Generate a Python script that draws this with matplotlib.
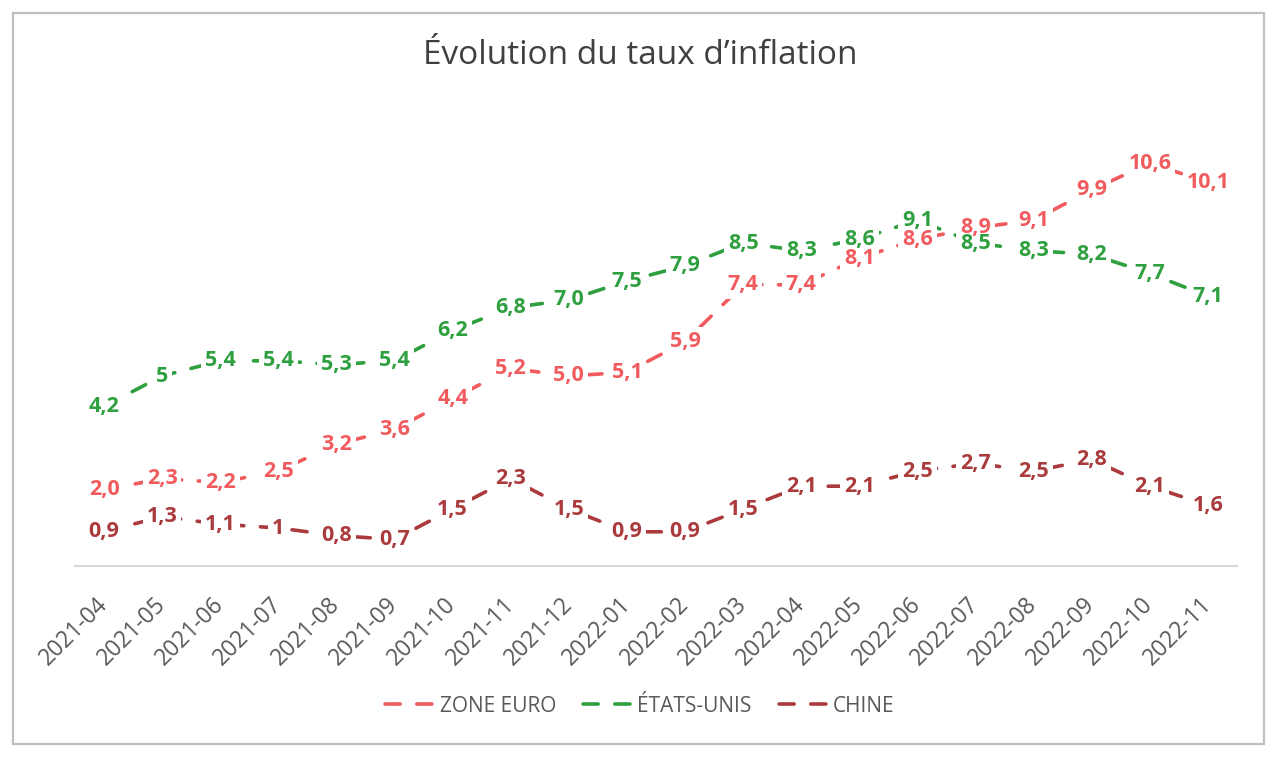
import matplotlib.pyplot as plt
from matplotlib.patches import Rectangle

plt.rcParams['font.family'] = ['Open Sans', 'DejaVu Sans']

mois = ['2021-04', '2021-05', '2021-06', '2021-07', '2021-08', '2021-09', '2021-10',
        '2021-11', '2021-12', '2022-01', '2022-02', '2022-03', '2022-04', '2022-05',
        '2022-06', '2022-07', '2022-08', '2022-09', '2022-10', '2022-11']

zoneEuro = [2.0, 2.3, 2.2, 2.5, 3.2, 3.6, 4.4, 5.2, 5.0, 5.1, 5.9, 7.4, 7.4, 8.1,
            8.6, 8.9, 9.1, 9.9, 10.6, 10.1]
etatsUnis = [4.2, 5, 5.4, 5.4, 5.3, 5.4, 6.2, 6.8, 7.0, 7.5, 7.9, 8.5, 8.3, 8.6,
             9.1, 8.5, 8.3, 8.2, 7.7, 7.1]
chine = [0.9, 1.3, 1.1, 1, 0.8, 0.7, 1.5, 2.3, 1.5, 0.9, 0.9, 1.5, 2.1, 2.1,
         2.5, 2.7, 2.5, 2.8, 2.1, 1.6]

# libellés tels qu'affichés (certains sans décimale)
etiquettesEuro = ['2,0', '2,3', '2,2', '2,5', '3,2', '3,6', '4,4', '5,2', '5,0', '5,1',
                  '5,9', '7,4', '7,4', '8,1', '8,6', '8,9', '9,1', '9,9', '10,6', '10,1']
etiquettesUS = ['4,2', '5', '5,4', '5,4', '5,3', '5,4', '6,2', '6,8', '7,0', '7,5',
                '7,9', '8,5', '8,3', '8,6', '9,1', '8,5', '8,3', '8,2', '7,7', '7,1']
etiquettesChine = ['0,9', '1,3', '1,1', '1', '0,8', '0,7', '1,5', '2,3', '1,5', '0,9',
                   '0,9', '1,5', '2,1', '2,1', '2,5', '2,7', '2,5', '2,8', '2,1', '1,6']

series = [
    ('ZONE EURO', zoneEuro, etiquettesEuro, '#F15B5E'),
    ('ÉTATS-UNIS', etatsUnis, etiquettesUS, '#2EA03F'),
    ('CHINE', chine, etiquettesChine, '#AA3A3C'),
]

fig = plt.figure(figsize=(12.8, 7.58), dpi=100)
ax = fig.add_axes([75 / 1280, (758 - 566) / 758, 1162 / 1280, 456 / 758])

x = list(range(len(mois)))
for nom, valeurs, etiquettes, couleur in series:
    ax.plot(x, valeurs, color=couleur, lw=2.6, linestyle=(0, (4.2, 4.6)),
            dash_capstyle='round', label=nom, zorder=2)

# fonds blancs d'abord (cachent les lignes), puis les textes par-dessus
for nom, valeurs, etiquettes, couleur in series:
    for xi, v, t in zip(x, valeurs, etiquettes):
        ax.text(xi, v, t, color='white', alpha=0, fontsize=15.5, fontweight='bold',
                ha='center', va='center', zorder=3,
                bbox=dict(boxstyle='square,pad=0.18', fc='white', ec='none', alpha=1))
for nom, valeurs, etiquettes, couleur in series:
    for xi, v, t in zip(x, valeurs, etiquettes):
        ax.text(xi, v, t, color=couleur, fontsize=15.5, fontweight='bold',
                ha='center', va='center', zorder=4)

ax.set_xlim(-0.5, len(mois) - 0.5)
ax.set_ylim(0, 12)
ax.set_yticks([])
for cote in ['top', 'right', 'left']:
    ax.spines[cote].set_visible(False)
ax.spines['bottom'].set_color('#D9D9D9')
ax.spines['bottom'].set_linewidth(1.5)

ax.set_xticks(x)
ax.set_xticklabels(mois, rotation=45, ha='right', va='center', rotation_mode='anchor',
                   fontsize=16.5, color='#595959')
ax.tick_params(axis='x', length=0, pad=25)

fig.text(0.5, (758 - 56) / 758, 'Évolution du taux d\u2019inflation', ha='center',
         va='center', fontsize=24, color='#404040')

leg = fig.legend(loc='center', bbox_to_anchor=(0.5, (758 - 706) / 758), ncol=3,
                 frameon=False, fontsize=15, handlelength=2.5, handletextpad=0.1,
                 columnspacing=1.3)
for t in leg.get_texts():
    t.set_color('#595959')

fig.patches.append(Rectangle((13 / 1280, (758 - 744) / 758), 1251 / 1280, 731 / 758,
                             transform=fig.transFigure, fill=False,
                             ec='#BFBFBF', lw=1.6))

fig.savefig('out.png', dpi=100)
